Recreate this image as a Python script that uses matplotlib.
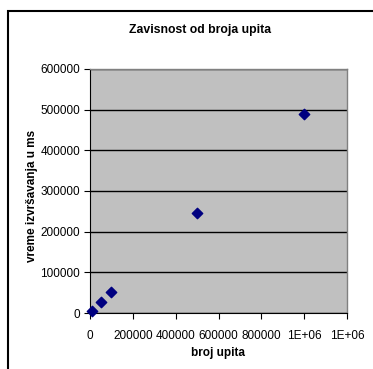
import matplotlib
matplotlib.use("Agg")
import matplotlib.pyplot as plt
from matplotlib.patches import Rectangle
from matplotlib.ticker import FuncFormatter

plt.rcParams['font.family'] = ['Liberation Sans', 'DejaVu Sans']

broj_upita = [10000, 50000, 100000, 500000, 1000000]
vreme_ms = [5000, 26000, 52000, 246000, 490000]

x_ticks = [0, 200000, 400000, 600000, 800000, 1000000, 1200000]
y_ticks = [0, 100000, 200000, 300000, 400000, 500000, 600000]


def fmt_x(v, pos):
    if v >= 1000000:
        return "1E+06"
    return "%d" % v


W, H = 373, 369
fig = plt.figure(figsize=(W / 100, H / 100), dpi=100)

# outer chart frame (right and bottom run off the image)
fig.patches.append(Rectangle((7.5 / W, -0.1), 1.2, 1.1 - 10.5 / H,
                             transform=fig.transFigure, fill=False,
                             edgecolor='black', linewidth=1.5))

ax = fig.add_axes([90 / W, 1 - 313 / H, 257 / W, 244 / H])
ax.set_facecolor('#c0c0c0')

ax.scatter(broj_upita, vreme_ms, marker='D', s=28, color='#000080', zorder=3,
           clip_on=False)

ax.set_xlim(0, 1200000)
ax.set_ylim(0, 600000)
ax.set_xticks(x_ticks)
ax.set_yticks(y_ticks)
ax.xaxis.set_major_formatter(FuncFormatter(fmt_x))
ax.yaxis.set_major_formatter(FuncFormatter(lambda v, p: "%d" % v))
ax.tick_params(direction='out', length=4, width=0.8, labelsize=8.5,
               colors='black', pad=3)
ax.tick_params(axis='x', pad=8)

ax.grid(axis='y', color='black', linewidth=1.0)
ax.set_axisbelow(True)

for side in ['left', 'bottom']:
    ax.spines[side].set_color('black')
    ax.spines[side].set_linewidth(0.8)
for side in ['top', 'right']:
    ax.spines[side].set_color('#808080')
    ax.spines[side].set_linewidth(1.0)

fig.text(200 / W, 1 - 30 / H, "Zavisnost od broja upita", ha='center',
         va='center', fontsize=8.8, fontweight='bold')
fig.text(218 / W, 1 - 353 / H, "broj upita", ha='center', va='center',
         fontsize=8.5, fontweight='bold')
fig.text(32 / W, 1 - 196 / H, "vreme izvršavanja u ms", ha='center',
         va='center', rotation=90, fontsize=8.5, fontweight='bold')

fig.savefig("out.png", dpi=100)
